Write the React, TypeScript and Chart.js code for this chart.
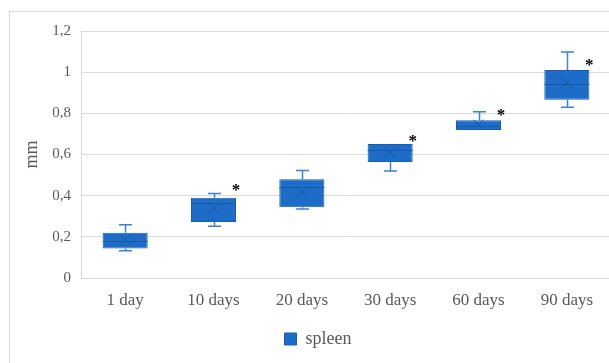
import React, { useEffect, useRef } from 'react';
import { Chart, registerables } from 'chart.js';

Chart.register(...registerables);

// ---- data ----
const categories = ['1 day', '10 days', '20 days', '30 days', '60 days', '90 days'];
const whiskerMin = [0.132, 0.251, 0.335, 0.52, 0.719, 0.829];
const quartile1 = [0.143, 0.272, 0.344, 0.563, 0.719, 0.866];
const medians = [0.18, 0.364, 0.44, 0.621, 0.74, 0.944];
const quartile3 = [0.22, 0.39, 0.48, 0.651, 0.767, 1.01];
const whiskerMax = [0.259, 0.411, 0.522, 0.651, 0.808, 1.098];
const means = [0.187, 0.34, 0.42, 0.61, 0.745, 0.947];
const asteriskLevel = [null, 0.432, null, 0.672, 0.797, 1.04];
const yTickLabels = ['0', '0,2', '0,4', '0,6', '0,8', '1', '1,2'];
const seriesLabel = 'spleen';
const yAxisTitle = 'mm';

// ---- style ----
const FONT = "'Liberation Serif', 'Times New Roman', serif";
const TEXT = '#595959';
const GRID = '#d9d9d9';
const BOX_FILL = '#1c6cc8';
const BOX_EDGE = '#1a5fae';
const WHISKER = '#3f80cf';
const INNER = '#1a58a2';

const boxExtras = {
  id: 'boxExtras',
  beforeDatasetsDraw(chart: any) {
    const { ctx } = chart;
    const y = chart.scales.y;
    const meta = chart.getDatasetMeta(0);
    ctx.save();
    ctx.strokeStyle = WHISKER;
    ctx.lineWidth = 1.5;
    meta.data.forEach((bar: any, i: number) => {
      const x = Math.round(bar.x) + 0.5;
      const cap = 6.5;
      const yq3 = y.getPixelForValue(quartile3[i]);
      const yq1 = y.getPixelForValue(quartile1[i]);
      if (whiskerMax[i] > quartile3[i]) {
        const yMax = y.getPixelForValue(whiskerMax[i]);
        ctx.beginPath();
        ctx.moveTo(x, yq3);
        ctx.lineTo(x, yMax);
        ctx.moveTo(x - cap, yMax);
        ctx.lineTo(x + cap, yMax);
        ctx.stroke();
      }
      if (whiskerMin[i] < quartile1[i]) {
        const yMin = y.getPixelForValue(whiskerMin[i]);
        ctx.beginPath();
        ctx.moveTo(x, yq1);
        ctx.lineTo(x, yMin);
        ctx.moveTo(x - cap, yMin);
        ctx.lineTo(x + cap, yMin);
        ctx.stroke();
      }
    });
    ctx.restore();
  },
  afterDatasetsDraw(chart: any) {
    const { ctx } = chart;
    const y = chart.scales.y;
    const meta = chart.getDatasetMeta(0);
    ctx.save();
    meta.data.forEach((bar: any, i: number) => {
      const half = bar.width / 2;
      const x = bar.x;
      // median
      const ym = Math.round(y.getPixelForValue(medians[i])) + 0.5;
      ctx.strokeStyle = INNER;
      ctx.lineWidth = 1;
      ctx.beginPath();
      ctx.moveTo(x - half, ym);
      ctx.lineTo(x + half, ym);
      ctx.stroke();
      // mean X
      const yMean = y.getPixelForValue(means[i]);
      const s = 5;
      ctx.beginPath();
      ctx.moveTo(x - s, yMean - s);
      ctx.lineTo(x + s, yMean + s);
      ctx.moveTo(x + s, yMean - s);
      ctx.lineTo(x - s, yMean + s);
      ctx.stroke();
      // asterisk
      const lvl = asteriskLevel[i];
      if (lvl !== null) {
        const ya = y.getPixelForValue(lvl);
        ctx.fillStyle = '#000';
        ctx.font = `bold 17px ${FONT}`;
        ctx.textAlign = 'center';
        ctx.textBaseline = 'alphabetic';
        ctx.fillText('*', x + half, ya + 6);
      }
    });
    ctx.restore();
  },
};

export default function App() {
  const ref = useRef<HTMLCanvasElement>(null);

  useEffect(() => {
    if (!ref.current) return;
    const chart = new Chart(ref.current, {
      type: 'bar',
      data: {
        labels: categories,
        datasets: [
          {
            label: seriesLabel,
            data: categories.map((_, i) => [quartile1[i], quartile3[i]]) as any,
            backgroundColor: BOX_FILL,
            borderColor: BOX_EDGE,
            borderWidth: 1,
            borderSkipped: false,
            barPercentage: 0.51,
            categoryPercentage: 1,
          },
        ],
      },
      options: {
        responsive: false,
        animation: false,
        devicePixelRatio: 1,
        layout: { padding: { left: 15, right: 10, top: 18, bottom: 5 } },
        plugins: {
          tooltip: { enabled: false },
          legend: {
            position: 'bottom',
            labels: {
              boxWidth: 12,
              boxHeight: 12,
              color: TEXT,
              padding: 10,
              font: { family: FONT, size: 18 },
            },
          },
        },
        scales: {
          x: {
            grid: { display: false, drawTicks: false },
            border: { display: true, color: GRID },
            ticks: { color: TEXT, padding: 12, font: { family: FONT, size: 17 } },
            afterFit: (s: any) => {
              s.height = 42;
            },
          },
          y: {
            min: 0,
            max: 1.2,
            grid: { color: GRID, drawTicks: false },
            border: { display: true, color: GRID },
            ticks: {
              stepSize: 0.2,
              color: TEXT,
              padding: 10,
              font: { family: FONT, size: 15 },
              callback: (_v: any, idx: number) => yTickLabels[idx],
            },
            title: {
              display: true,
              text: yAxisTitle,
              color: TEXT,
              font: { family: FONT, size: 18, lineHeight: 1 },
              padding: { top: -2, bottom: 0 },
            },
            afterFit: (s: any) => {
              s.width = 56;
            },
          },
        },
      },
      plugins: [boxExtras],
    });
    return () => chart.destroy();
  }, []);

  return (
    <div
      style={{
        position: 'fixed',
        left: 0,
        top: 0,
        width: 609,
        height: 363,
        overflow: 'hidden',
        background: '#fff',
      }}
    >
      <div
        style={{
          position: 'absolute',
          left: 9,
          top: 11,
          width: 700,
          height: 400,
          borderLeft: `1px solid ${GRID}`,
          borderTop: `1px solid ${GRID}`,
        }}
      />
      <canvas
        ref={ref}
        width={611}
        height={351}
        style={{ position: 'absolute', left: 10, top: 12, width: 611, height: 351 }}
      />
    </div>
  );
}
